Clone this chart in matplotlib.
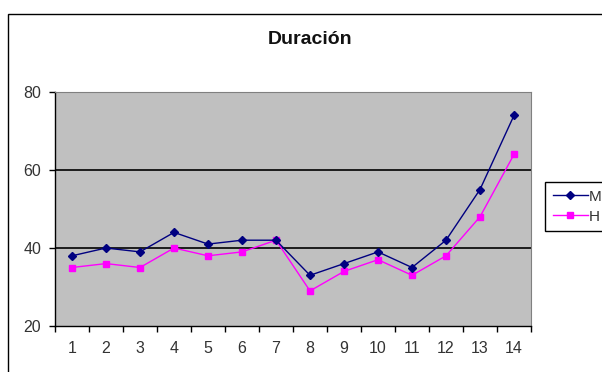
import matplotlib
matplotlib.use("Agg")
import matplotlib.pyplot as plt
from matplotlib.patches import Rectangle
from matplotlib.ticker import FixedLocator, NullFormatter

# ===== DATA =====
categorias = list(range(1, 15))
serie_m = [38, 40, 39, 44, 41, 42, 42, 33, 36, 39, 35, 42, 55, 74]
serie_h = [35, 36, 35, 40, 38, 39, 42, 29, 34, 37, 33, 38, 48, 64]
y_ticks = [20, 40, 60, 80]

plt.rcParams['font.family'] = ['Liberation Sans', 'DejaVu Sans']

fig = plt.figure(figsize=(6.02, 3.72), dpi=100, facecolor='white')

# marco exterior del grafico (estilo Excel)
fig.patches.append(Rectangle((8 / 602, -0.1), 1.2, 1 - 14 / 372 + 0.1,
                             transform=fig.transFigure, fill=False,
                             edgecolor='black', linewidth=1.0))

ax = fig.add_axes([55 / 602, 46 / 372, 476 / 602, 234 / 372])
ax.set_facecolor('#C0C0C0')

x = categorias
ax.plot(x, serie_m, color='#000080', linewidth=1.0, marker='D', markersize=4.5,
        markerfacecolor='#000080', markeredgecolor='#000080', label='M', zorder=4)
ax.plot(x, serie_h, color='#FF00FF', linewidth=1.0, marker='s', markersize=5,
        markerfacecolor='#FF00FF', markeredgecolor='#FF00FF', label='H', zorder=3)

for yv in [40, 60]:
    ax.axhline(yv, color='black', linewidth=1.2, zorder=2)

ax.set_xlim(0.5, 14.5)
ax.set_ylim(20, 80)
ax.set_yticks(y_ticks)
ax.set_yticklabels([str(v) for v in y_ticks])

# ticks en los limites de categoria, etiquetas centradas
ax.xaxis.set_major_locator(FixedLocator([i + 0.5 for i in range(0, 15)]))
ax.xaxis.set_major_formatter(NullFormatter())
ax.xaxis.set_minor_locator(FixedLocator(categorias))
ax.set_xticklabels([str(c) for c in categorias], minor=True)
ax.tick_params(axis='x', which='minor', length=0, pad=11, labelsize=11.5, labelcolor='#333333')
ax.tick_params(axis='x', which='major', length=4, width=1, direction='out', color='black')
ax.tick_params(axis='y', length=4, width=1, direction='out', pad=6, labelsize=11.5,
               labelcolor='#333333')

ax.spines['left'].set_color('black')
ax.spines['bottom'].set_color('black')
ax.spines['left'].set_linewidth(1.0)
ax.spines['bottom'].set_linewidth(1.0)
ax.spines['top'].set_color('#808080')
ax.spines['right'].set_color('#808080')

fig.text(310 / 602, 1 - 39 / 372, 'Duración', ha='center', va='center',
         fontsize=14, fontweight='bold', color='#111111')

leg = fig.legend(loc='upper left', bbox_to_anchor=(545 / 602, 1 - 182 / 372),
                 frameon=True, fancybox=False, edgecolor='black', framealpha=1,
                 fontsize=11, handlelength=2.3, handletextpad=0.05,
                 borderpad=0.5, labelspacing=0.4, borderaxespad=0,
                 labelcolor='#333333')
leg.get_frame().set_linewidth(1.0)

fig.savefig('out.png', dpi=100, facecolor='white')
